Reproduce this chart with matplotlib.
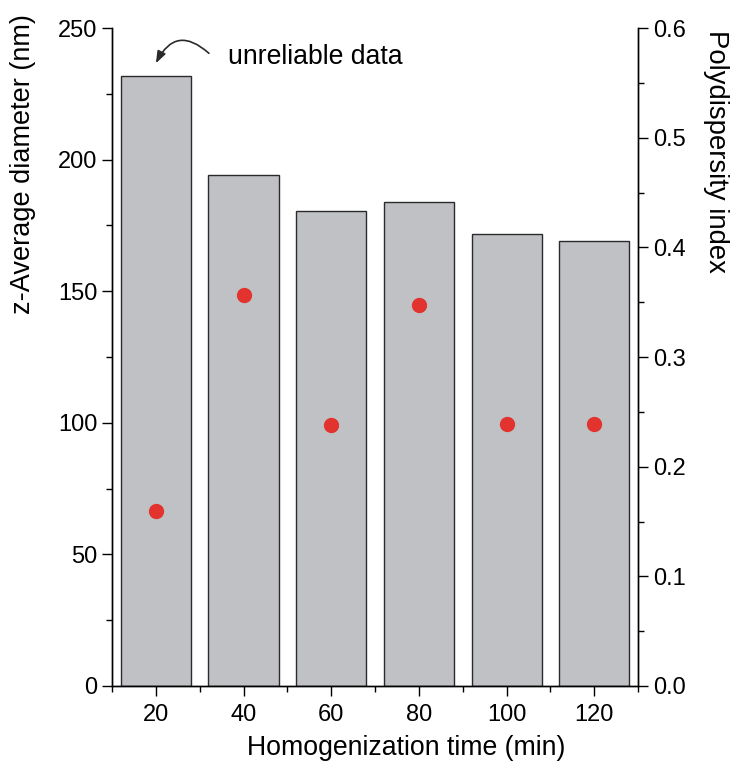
import matplotlib
matplotlib.use('Agg')
import matplotlib.pyplot as plt
from matplotlib.ticker import MultipleLocator

plt.rcParams['font.family'] = ['Liberation Sans', 'DejaVu Sans']

# Values
times = [20, 40, 60, 80, 100, 120]
z_avg = [231.8, 194.2, 180.5, 183.9, 171.7, 169.1]
pdi = [0.160, 0.357, 0.238, 0.347, 0.239, 0.239]

fig = plt.figure(figsize=(7.42, 7.79), dpi=100)
ax = fig.add_axes([0.151, 0.1194, 0.709, 0.8446])

ax.bar(times, z_avg, width=16, color='#c0c1c5', edgecolor='#2a2a2a', linewidth=1.0, zorder=2)
ax.set_xlim(10, 130)
ax.set_ylim(0, 250)
ax.xaxis.set_major_locator(MultipleLocator(20))
ax.xaxis.set_minor_locator(MultipleLocator(10))
ax.yaxis.set_major_locator(MultipleLocator(50))
ax.yaxis.set_minor_locator(MultipleLocator(25))
ax.spines['top'].set_visible(False)

ax2 = ax.twinx()
ax2.plot(times, pdi, 'o', color='#e2332e', markersize=10, zorder=3)
ax2.set_ylim(0, 0.6)
ax2.yaxis.set_major_locator(MultipleLocator(0.1))
ax2.yaxis.set_minor_locator(MultipleLocator(0.05))
ax2.spines['top'].set_visible(False)
ax2.set_yticklabels([f'{v:.1f}' for v in ax2.get_yticks()])

for a in (ax, ax2):
    a.tick_params(which='major', direction='out', length=7, width=1.0, labelsize=17)
    a.tick_params(which='minor', direction='out', length=4, width=1.0)
    for s in a.spines.values():
        s.set_linewidth(1.0)
ax.tick_params(axis='x', pad=6)

ax.set_xlabel('Homogenization time (min)', fontsize=19.2, labelpad=9)
ax.xaxis.set_label_coords(0.56, -0.075)
fig.text(0.031, 0.789, 'z-Average diameter (nm)', rotation=90, fontsize=19.5,
         ha='center', va='center')
fig.text(0.965, 0.805, 'Polydispersity index', rotation=-90, fontsize=19.8,
         ha='center', va='center')

# curved arrow pointing at the first bar
ax.annotate('', xy=(20.0, 236.6), xytext=(32.1, 240.4),
            arrowprops=dict(arrowstyle='-|>,head_length=0.6,head_width=0.22',
                            color='#2a2a2a', lw=1.2, shrinkA=0, shrinkB=0,
                            connectionstyle='arc3,rad=0.65', mutation_scale=12))
ax.text(36.5, 239, 'unreliable data', fontsize=19.2, va='center', ha='left')

fig.savefig('out.png', dpi=100)
